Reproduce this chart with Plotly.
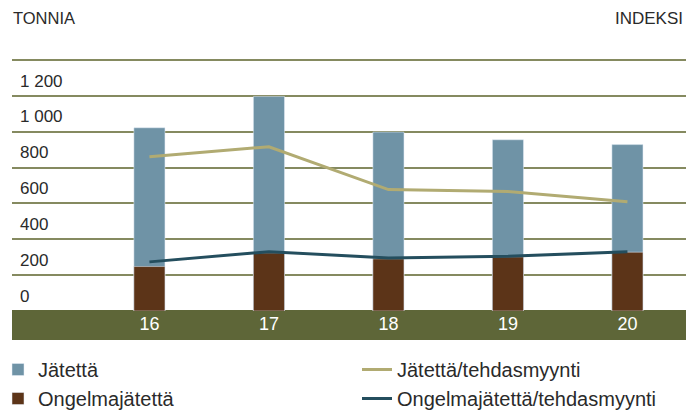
import plotly.graph_objects as go

years = ["16", "17", "18", "19", "20"]
waste_total = [1022, 1197, 998, 955, 928]          # Jätettä (tonnia)
hazardous = [248, 324, 291, 302, 328]              # Ongelmajätettä (tonnia)
waste_index = [861, 916, 677, 666, 610]            # Jätettä/tehdasmyynti (indeksi)
hazardous_index = [274, 331, 296, 305, 330]        # Ongelmajätettä/tehdasmyynti (indeksi)
y_ticks = [0, 200, 400, 600, 800, 1000, 1200]
y_tick_text = ["0", "200", "400", "600", "800", "1 000", "1 200"]
grid_vals = [200, 400, 600, 800, 1000, 1200, 1400]

BLUE = "#6f93a6"
BROWN = "#5c3418"
KHAKI = "#b1ab72"
TEAL = "#244e5e"
OLIVE = "#5e6638"
TXT = "#2a2a2a"
FONT = "Liberation Sans, Arial, sans-serif"

# the page shows the figure with an 8px body offset
OFF = 8
W, H = 698 - OFF, 411 - OFF
ML, MR, MT, MB = 4, 12, 48, 100
PW = W - ML - MR
PH = H - MT - MB
SCALE = 251 / 1400.0          # px per unit
YTOP = PH / SCALE

def px_x(p):   # window px -> paper
    return (p - OFF - ML) / PW

def px_y(p):
    return (H - MB - (p - OFF)) / PH

fig = go.Figure()
fig.add_trace(go.Bar(x=years, y=waste_total, name="Jätettä", marker_color=BLUE,
                     width=0.26, yaxis="y", legend="legend"))
fig.add_trace(go.Bar(x=years, y=hazardous, name="Ongelmajätettä", marker_color=BROWN,
                     width=0.26, yaxis="y", legend="legend"))
fig.add_trace(go.Scatter(x=years, y=waste_index, name="Jätettä/tehdasmyynti", mode="lines",
                         line=dict(color=KHAKI, width=3), yaxis="y3", legend="legend2"))
fig.add_trace(go.Scatter(x=years, y=hazardous_index, name="Ongelmajätettä/tehdasmyynti", mode="lines",
                         line=dict(color=TEAL, width=3), yaxis="y3", legend="legend2"))
# invisible trace to host the label axis
fig.add_trace(go.Scatter(x=years, y=[None]*5, yaxis="y2", showlegend=False, hoverinfo="skip"))

label_pos = [v + 85 for v in y_ticks]

legend_common = dict(orientation="v", xanchor="left", yanchor="top",
                     font=dict(size=20, color=TXT, family=FONT), bgcolor="rgba(0,0,0,0)",
                     traceorder="normal", itemclick=False)

fig.update_layout(
    width=W, height=H,
    margin=dict(l=ML, r=MR, t=MT, b=MB, autoexpand=False),
    paper_bgcolor="white", plot_bgcolor="white",
    barmode="overlay",
    font=dict(family=FONT, size=17, color=TXT),
    xaxis=dict(range=[-1.15, 4.49], showgrid=False, zeroline=False, showline=False,
               ticks="", tickfont=dict(color="white", size=18), ticklabelstandoff=0,
               automargin=False),
    yaxis=dict(range=[0, YTOP], tickvals=grid_vals, showticklabels=False, showgrid=True,
               gridcolor="#858a60", gridwidth=1.5, zeroline=False, showline=False,
               automargin=False),
    yaxis2=dict(range=[0, YTOP], overlaying="y", side="left", tickvals=label_pos,
                ticktext=y_tick_text, showgrid=False, zeroline=False, showline=False,
                ticks="", ticklabelposition="inside", ticklabelstandoff=5,
                tickfont=dict(size=17, color=TXT), automargin=False),
    yaxis3=dict(range=[0, YTOP], overlaying="y", side="right", visible=False),
    showlegend=True,
    legend=dict(x=px_x(-2), y=px_y(350), **legend_common),
    legend2=dict(x=px_x(357), y=px_y(350), **legend_common),
    shapes=[dict(type="rect", xref="paper", yref="paper", x0=0, x1=1,
                 y0=px_y(340), y1=px_y(310), fillcolor=OLIVE, line=dict(width=0), layer="below")],
    annotations=[
        dict(text="TONNIA", xref="paper", yref="paper", x=px_x(11), y=px_y(18),
             xanchor="left", yanchor="middle", showarrow=False, font=dict(size=16.5, color=TXT)),
        dict(text="INDEKSI", xref="paper", yref="paper", x=px_x(685), y=px_y(18),
             xanchor="right", yanchor="middle", showarrow=False, font=dict(size=17, color=TXT)),
    ],
)
fig.write_html("out.html")
